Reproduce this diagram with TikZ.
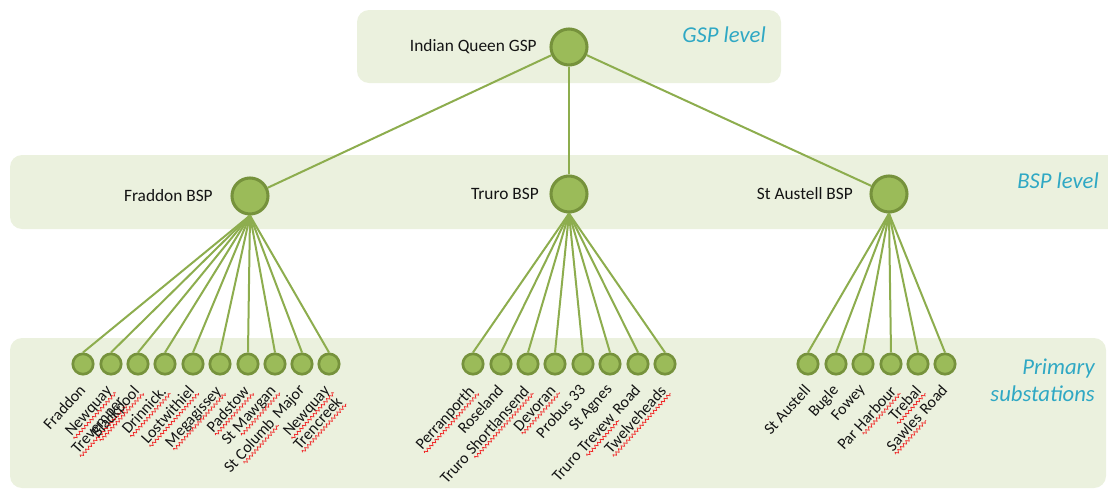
\documentclass[tikz,border=0pt]{standalone}
\usepackage{fontspec}
\setmainfont{Carlito}
\usetikzlibrary{positioning,decorations.pathmorphing}

\definecolor{panelgreen}{HTML}{EBF1DE}
\definecolor{nodefill}{HTML}{9BBB59}
\definecolor{nodeline}{HTML}{76923C}
\definecolor{edgegreen}{HTML}{8DAD4E}
\definecolor{levelteal}{HTML}{2FA8C4}
\definecolor{spellred}{HTML}{F02828}

% red wavy mark under a word
\newcommand\spl[1]{\tikz[baseline=(sw.base)]{\node[inner sep=0pt, outer sep=0pt] (sw) {#1};
  \draw[spellred, line width=0.55pt, decorate, decoration={zigzag, amplitude=1.1pt, segment length=3pt}]
    ([yshift=-2.4pt]sw.base west) -- ([yshift=-2.4pt, xshift=1pt]sw.base east);}}

\begin{document}
\begin{tikzpicture}[
  x=0.75pt, y=-0.75pt,
  panel/.style={fill=panelgreen, draw=none, rounded corners=9pt},
  bigv/.style={circle, draw=nodeline, line width=2.3pt, fill=nodefill, minimum size=27pt, inner sep=0pt},
  smallv/.style={circle, draw=nodeline, line width=2pt, fill=nodefill, minimum size=15.3pt, inner sep=0pt},
  edge/.style={draw=edgegreen, line width=1.5pt},
  lbl/.style={font=\fontsize{13}{15}\selectfont, text=black!92, anchor=east, inner sep=0pt},
  plbl/.style={font=\fontsize{12}{12.5}\selectfont, text=black!92, rotate=48, anchor=north east, align=right, inner sep=0pt},
  lvl/.style={font=\fontsize{17}{20}\selectfont\itshape, text=levelteal, align=right, anchor=east, inner sep=0pt}
]
\useasboundingbox (0,0) rectangle (1108,490);

% level panels
\fill[panel] (357,10) rectangle (781,83);
\fill[panel] (10,155) rectangle (1125,229);
\fill[panel] (10,338) rectangle (1106,488);

\node[lvl] (lgsp) at (766,35) {GSP level};
\node[lvl] (lbsp) at (1099,181) {BSP level};
\node[lvl] (lprim) at (1095,380) {Primary\\substations};

% GSP and BSPs
\node[bigv] (gsp) at (569,47) {};
\node[bigv] (bf) at (250,196) {};
\node[bigv] (bt) at (569,194) {};
\node[bigv] (bs) at (889,194) {};
\node[lbl] (lgs) at (537,47) {Indian Queen GSP};
\node[lbl] (lbf) at (213,196) {Fraddon BSP};
\node[lbl] (lbt) at (539,194) {Truro BSP};
\node[lbl] (lbs) at (853,194) {St Austell BSP};
\draw[edge] (gsp) -- (bf);
\draw[edge] (gsp) -- (bt);
\draw[edge] (gsp) -- (bs);

% Fraddon primaries
\node[smallv] (pf1) at (83,364) {};
\node[smallv] (pf2) at (111,364) {};
\node[smallv] (pf3) at (138,364) {};
\node[smallv] (pf4) at (165,364) {};
\node[smallv] (pf5) at (193,364) {};
\node[smallv] (pf6) at (220,364) {};
\node[smallv] (pf7) at (248,364) {};
\node[smallv] (pf8) at (275,364) {};
\node[smallv] (pf9) at (302,364) {};
\node[smallv] (pf10) at (329,364) {};
\draw[edge] (bf.south) -- (pf1.north);
\draw[edge] (bf.south) -- (pf2.north);
\draw[edge] (bf.south) -- (pf3.north);
\draw[edge] (bf.south) -- (pf4.north);
\draw[edge] (bf.south) -- (pf5.north);
\draw[edge] (bf.south) -- (pf6.north);
\draw[edge] (bf.south) -- (pf7.north);
\draw[edge] (bf.south) -- (pf8.north);
\draw[edge] (bf.south) -- (pf9.north);
\draw[edge] (bf.south) -- (pf10.north);
\node[plbl] (lf1) at (78,383) {Fraddon};
\node[plbl] (lf2) at (106,383) {\spl{Newquay}\\\spl{Trevemper}};
\node[plbl] (lf3) at (133,383) {\spl{Blackpool}};
\node[plbl] (lf4) at (160,383) {\spl{Drinnick.}};
\node[plbl] (lf5) at (188,383) {\spl{Lostwithiel}};
\node[plbl] (lf6) at (215,383) {\spl{Megagissey}};
\node[plbl] (lf7) at (243,383) {\spl{Padstow}};
\node[plbl] (lf8) at (270,383) {St \spl{Mawgan}};
\node[plbl] (lf9) at (297,383) {St \spl{Columb} Major};
\node[plbl] (lf10) at (324,383) {\spl{Newquay}\\\spl{Trencreek}};

% Truro primaries
\node[smallv] (pt1) at (473,364) {};
\node[smallv] (pt2) at (501,364) {};
\node[smallv] (pt3) at (528,364) {};
\node[smallv] (pt4) at (555,364) {};
\node[smallv] (pt5) at (583,364) {};
\node[smallv] (pt6) at (610,364) {};
\node[smallv] (pt7) at (638,364) {};
\node[smallv] (pt8) at (665,364) {};
\draw[edge] (bt.south) -- (pt1.north);
\draw[edge] (bt.south) -- (pt2.north);
\draw[edge] (bt.south) -- (pt3.north);
\draw[edge] (bt.south) -- (pt4.north);
\draw[edge] (bt.south) -- (pt5.north);
\draw[edge] (bt.south) -- (pt6.north);
\draw[edge] (bt.south) -- (pt7.north);
\draw[edge] (bt.south) -- (pt8.north);
\node[plbl] (lt1) at (468,383) {\spl{Perranporth}};
\node[plbl] (lt2) at (496,383) {Roseland};
\node[plbl] (lt3) at (523,383) {Truro \spl{Shortlansend}};
\node[plbl] (lt4) at (550,383) {\spl{Devoran}};
\node[plbl] (lt5) at (578,383) {Probus 33};
\node[plbl] (lt6) at (605,383) {St Agnes};
\node[plbl] (lt7) at (633,383) {Truro \spl{Trevew} Road};
\node[plbl] (lt8) at (660,383) {\spl{Twelveheads}};

% St Austell primaries
\node[smallv] (ps1) at (808,364) {};
\node[smallv] (ps2) at (836,364) {};
\node[smallv] (ps3) at (863,364) {};
\node[smallv] (ps4) at (891,364) {};
\node[smallv] (ps5) at (918,364) {};
\node[smallv] (ps6) at (945,364) {};
\draw[edge] (bs.south) -- (ps1.north);
\draw[edge] (bs.south) -- (ps2.north);
\draw[edge] (bs.south) -- (ps3.north);
\draw[edge] (bs.south) -- (ps4.north);
\draw[edge] (bs.south) -- (ps5.north);
\draw[edge] (bs.south) -- (ps6.north);
\node[plbl] (ls1) at (803,383) {St Austell};
\node[plbl] (ls2) at (831,383) {Bugle};
\node[plbl] (ls3) at (858,383) {Fowey};
\node[plbl] (ls4) at (890,383) {Par \spl{Harbour}};
\node[plbl] (ls5) at (915,383) {\spl{Trebal}};
\node[plbl] (ls6) at (940,383) {\spl{Sawles} Road};

\end{tikzpicture}
\end{document}
